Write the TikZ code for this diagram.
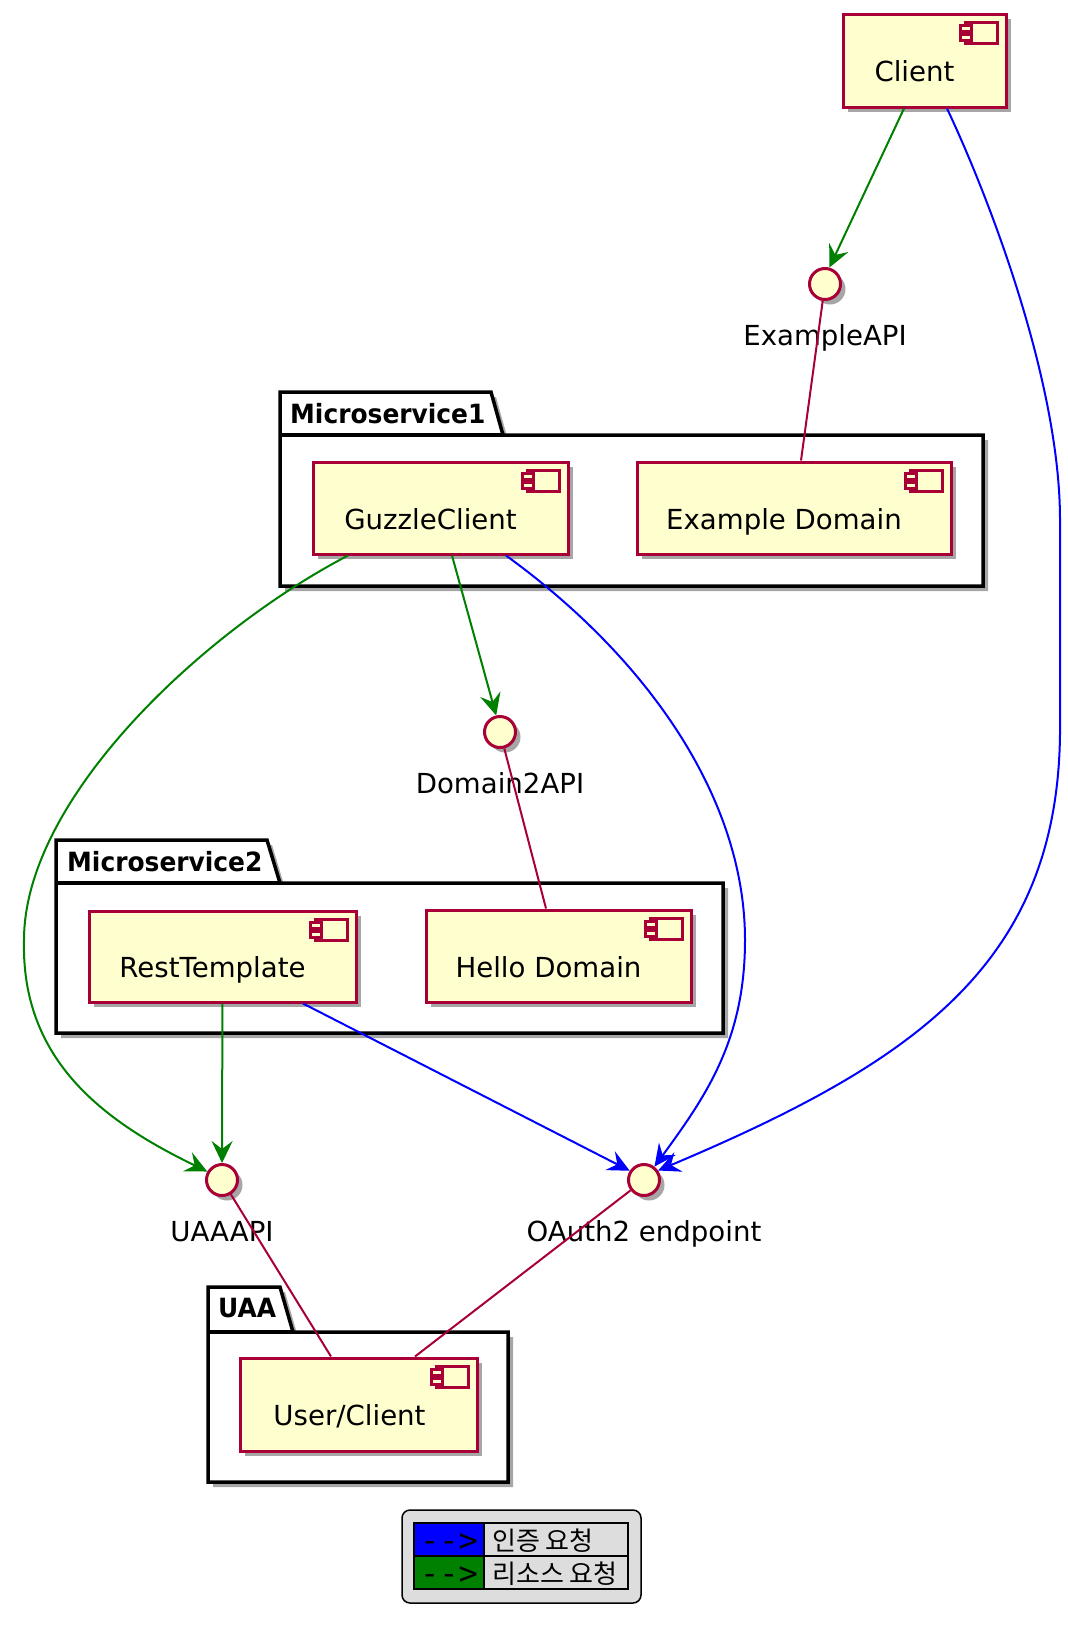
\documentclass[tikz,border=0pt]{standalone}
\usepackage{fontspec}
\setmainfont{DejaVu Sans}
\newfontfamily\pkgfont{DejaVu Sans}[FakeStretch=0.94]
\newfontfamily\krfont{Noto Sans CJK KR}
\newfontfamily\legmono{DejaVu Sans Mono}
\usetikzlibrary{arrows.meta,shadows}
\definecolor{pred}{HTML}{A80036}
\definecolor{pfill}{HTML}{FEFECE}
\definecolor{agreen}{HTML}{008000}
\definecolor{ablue}{HTML}{0000FF}
\definecolor{lgray}{HTML}{DDDDDD}
\tikzset{
  shad/.style={drop shadow={shadow xshift=5pt,shadow yshift=-5pt,opacity=0.35,fill=black}},
  comp/.style={rectangle,draw=pred,fill=pfill,line width=3pt,inner sep=0pt,shad},
  iface/.style={circle,draw=pred,fill=pfill,line width=3pt,minimum size=31pt,inner sep=0pt,shad},
  lbl/.style={font=\fontsize{27.6}{31}\selectfont,anchor=base,inner sep=0pt},
  pkgt/.style={font=\pkgfont\bfseries\fontsize{26.5}{30}\selectfont,anchor=base west,inner sep=0pt},
  pkg/.style={draw=black,line width=3.5pt,fill=white,shad},
  iconst/.style={draw=pred,fill=pfill,line width=2.5pt},
  gar/.style={draw=agreen,line width=2pt,-{Stealth[length=22pt,width=21pt,inset=8pt]}},
  bar/.style={draw=ablue,line width=2pt,-{Stealth[length=22pt,width=21pt,inset=8pt]}},
  pline/.style={draw=pred,line width=2pt},
  legtxt/.style={font=\krfont\fontsize{26}{28}\selectfont,anchor=base west,inner sep=0pt},
  legarr/.style={font=\legmono\fontsize{32}{33}\selectfont,anchor=base,inner sep=0pt}
}
\newcommand\compicon[1]{%
  \draw[iconst] ([xshift=-42pt,yshift=-10pt]#1.north east) rectangle ([xshift=-10pt,yshift=-31pt]#1.north east);
  \draw[iconst] ([xshift=-47pt,yshift=-13pt]#1.north east) rectangle ([xshift=-36pt,yshift=-19pt]#1.north east);
  \draw[iconst] ([xshift=-47pt,yshift=-22pt]#1.north east) rectangle ([xshift=-36pt,yshift=-28pt]#1.north east);
}
\begin{document}
\begin{tikzpicture}[x=1pt,y=-1pt]
\fill[white] (0,0) rectangle (1068,1633);
\useasboundingbox (0,0) rectangle (1068,1633);

% packages
\draw[pkg] (280,392) -- (491,392) -- (503,435) -- (983,435) -- (983,586) -- (280,586) -- cycle;
\draw[line width=3.5pt] (280,435) -- (503,435);
\node[pkgt] (ms1) at (290,423) {Microservice1};

\draw[pkg] (56,840) -- (267,840) -- (280,883) -- (723,883) -- (723,1033) -- (56,1033) -- cycle;
\draw[line width=3.5pt] (56,883) -- (280,883);
\node[pkgt] (ms2) at (67,871) {Microservice2};

\draw[pkg] (208,1287) -- (280,1287) -- (293,1332) -- (508,1332) -- (508,1482) -- (208,1482) -- cycle;
\draw[line width=3.5pt] (208,1332) -- (293,1332);
\node[pkgt] (uaa) at (218,1317) {UAA};

% components
\node[comp,minimum width=163pt,minimum height=93pt] (client) at (924.5,60.5) {};
\compicon{client}
\node[lbl] (clientt) at (914.5,81) {Client};

\node[comp,minimum width=255pt,minimum height=92pt] (guzzle) at (440.5,508) {};
\compicon{guzzle}
\node[lbl] (guzzlet) at (430.5,529) {GuzzleClient};

\node[comp,minimum width=314pt,minimum height=92pt] (exdom) at (794,508) {};
\compicon{exdom}
\node[lbl] (exdomt) at (784,529) {Example Domain};

\node[comp,minimum width=267pt,minimum height=91pt] (rest) at (222.5,956.5) {};
\compicon{rest}
\node[lbl] (restt) at (212.5,977.5) {RestTemplate};

\node[comp,minimum width=265pt,minimum height=92pt] (hello) at (558.5,956) {};
\compicon{hello}
\node[lbl] (hellot) at (548.5,977) {Hello Domain};

\node[comp,minimum width=237pt,minimum height=93pt] (user) at (358.5,1404.5) {};
\compicon{user}
\node[lbl] (usert) at (349.5,1425) {User/Client};

% interfaces
\node[iface] (exapi) at (825,284) {};
\node[lbl] (exapit) at (825,345) {ExampleAPI};
\node[iface] (d2api) at (500,732) {};
\node[lbl] (d2apit) at (500,793) {Domain2API};
\node[iface] (uaaapi) at (222,1180) {};
\node[lbl] (uaaapit) at (222,1241) {UAAAPI};
\node[iface] (oauth) at (644,1180) {};
\node[lbl] (oautht) at (644,1241) {OAuth2 endpoint};

% connectors
\draw[gar] ([xshift=-20.5pt]client.south) -- (exapi.75);
\draw[bar] ([xshift=22.5pt]client.south) .. controls (987,193) and (1060,380) .. (1060,520) -- (1060,720) .. controls (1063,960) and (920,1060) .. (oauth.34);
\draw[pline] (exapi) -- ([xshift=7pt]exdom.north);
\draw[gar] ([xshift=11.5pt]guzzle.south) -- (d2api.103);
\draw[gar] ([xshift=-92.5pt]guzzle.south) .. controls (200,633) and (24,800) .. (24,940) .. controls (21,1060) and (103,1121) .. (uaaapi.150);
\draw[bar] ([xshift=65.5pt]guzzle.south) .. controls (650,660) and (745,800) .. (745,940) .. controls (745,1040) and (706,1096) .. (oauth.52);
\draw[pline] (d2api) -- ([xshift=-12.5pt]hello.north);
\draw[gar] (rest) -- (uaaapi);
\draw[bar] ([xshift=80.5pt]rest.south) -- (oauth.147);
\draw[pline] (uaaapi) -- ([xshift=-27.5pt]user.north);
\draw[pline] (oauth) -- ([xshift=56.5pt]user.north);

% legend
\node[draw=black,fill=lgray,line width=1.5pt,rounded corners=8pt,minimum width=239pt,minimum height=93pt,inner sep=0pt] (legend) at (521.5,1556.5) {};
\fill[ablue] (414,1523) rectangle (484,1556);
\fill[agreen] (414,1556) rectangle (484,1589);
\draw[line width=1.5pt] (414,1523) rectangle (628,1589);
\draw[line width=1.5pt] (414,1556) -- (628,1556);
\draw[line width=1.5pt] (484,1523) -- (484,1589);
\node[legarr] (leg1a) at (449,1551) {-{}-{}>};
\node[legtxt] (leg1b) at (492,1550) {인증 요청};
\node[legarr] (leg2a) at (449,1584) {-{}-{}>};
\node[legtxt] (leg2b) at (492,1583) {리소스 요청};
\end{tikzpicture}
\end{document}
